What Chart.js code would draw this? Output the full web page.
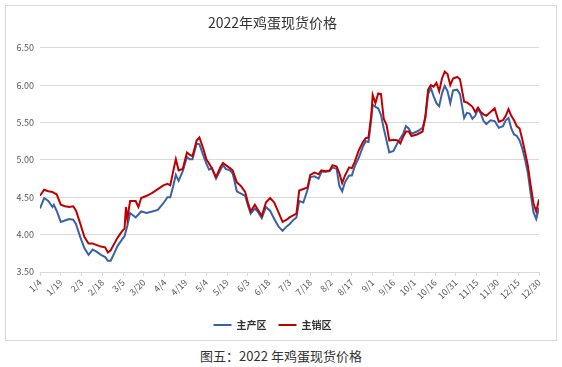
<!DOCTYPE html>
<html>
<head>
<meta charset="utf-8">
<script src="https://cdn.jsdelivr.net/npm/chart.js@4/dist/chart.umd.min.js"></script>
<style>
  html, body { margin: 0; padding: 0; background: #fff; }
  body { width: 562px; height: 367px; position: relative; overflow: hidden; font-family: "Noto Sans CJK SC", "Noto Sans", sans-serif; }
  #box { position: absolute; left: 5px; top: 5px; width: 550px; height: 334px; border: 1px solid #d9d9d9; }
  #caption { position: absolute; left: 0; top: 347px; width: 562px; text-align: center; font-size: 13px; line-height: 18px; color: #333; }
</style>
</head>
<body>
<div id="box"><canvas id="chart" width="550" height="334"></canvas></div>
<div id="caption">图五：2022 年鸡蛋现货价格</div>
<script>
// sample dates (2022)
const dates = [
  '1/4','1/7','1/10','1/13','1/14','1/16','1/19','1/22','1/25','1/28','1/30',
  '2/2','2/5','2/8','2/11','2/14','2/17','2/20','2/22','2/24','2/26',
  '3/1','3/4','3/6','3/7','3/8','3/10','3/14','3/16','3/18','3/22','3/26','3/30',
  '4/3','4/6','4/8','4/10','4/12','4/14','4/17','4/20','4/22','4/24','4/27','4/29',
  '5/2','5/4','5/6','5/8','5/11','5/14','5/16','5/18','5/21','5/23','5/26','5/29',
  '6/1','6/3','6/5','6/8','6/10','6/13','6/16','6/19','6/22','6/25','6/28',
  '7/1','7/3','7/6','7/8','7/10','7/13','7/16','7/18','7/21','7/24','7/26','7/29',
  '8/1','8/3','8/6','8/8','8/10','8/12','8/15','8/17','8/19','8/22','8/25','8/27','8/29','8/31',
  '9/1','9/3','9/5','9/7','9/9','9/11','9/13','9/16','9/19','9/21','9/23','9/25','9/27','9/29',
  '10/3','10/7','10/9','10/11','10/13','10/15','10/17','10/19','10/21','10/23','10/25','10/27','10/29',
  '11/1','11/3','11/6','11/8','11/10','11/12','11/14','11/16','11/18','11/20','11/22','11/25','11/28',
  '12/1','12/4','12/6','12/8','12/10','12/12','12/14','12/16','12/18','12/20','12/22','12/24','12/26','12/28','12/30'
];

// 主产区
const zhuChan = [
  4.35,4.49,4.45,4.37,4.40,4.32,4.17,4.19,4.21,4.20,4.14,
  3.97,3.82,3.73,3.80,3.77,3.73,3.70,3.65,3.65,3.73,
  3.85,3.93,3.98,4.05,4.12,4.29,4.23,4.27,4.31,4.29,4.31,4.33,
  4.42,4.50,4.50,4.64,4.80,4.72,4.85,5.04,5.01,5.01,5.22,5.21,
  5.05,4.95,4.87,4.89,4.75,4.86,4.93,4.88,4.86,4.82,4.58,4.55,
  4.52,4.39,4.28,4.35,4.31,4.22,4.37,4.32,4.21,4.11,4.05,
  4.11,4.14,4.20,4.23,4.45,4.43,4.60,4.77,4.78,4.75,4.84,4.84,
  4.85,4.90,4.88,4.65,4.58,4.70,4.79,4.79,4.91,5.03,5.18,5.25,5.24,5.55,
  5.74,5.71,5.69,5.60,5.42,5.26,5.10,5.12,5.23,5.29,5.35,5.45,5.42,5.35,
  5.38,5.43,5.56,5.88,5.96,5.85,5.76,5.72,5.89,5.99,5.92,5.76,5.93,
  5.94,5.88,5.56,5.63,5.62,5.55,5.59,5.68,5.62,5.52,5.48,5.53,5.52,
  5.43,5.45,5.53,5.56,5.42,5.34,5.32,5.26,5.15,5.00,4.82,4.55,4.30,4.21,4.36
];

// 主销区
const zhuXiao = [
  4.52,4.60,4.58,4.57,4.56,4.54,4.40,4.38,4.37,4.38,4.32,
  4.15,3.97,3.88,3.88,3.86,3.84,3.83,3.76,3.79,3.86,
  3.96,4.04,4.08,4.37,4.21,4.45,4.45,4.37,4.49,4.52,4.56,4.61,
  4.66,4.68,4.66,4.84,5.01,4.86,4.88,5.10,5.07,5.05,5.26,5.30,
  5.14,5.01,4.95,4.89,4.77,4.90,4.96,4.93,4.89,4.86,4.70,4.65,
  4.57,4.43,4.31,4.40,4.34,4.25,4.43,4.49,4.43,4.30,4.17,
  4.20,4.23,4.26,4.28,4.59,4.61,4.63,4.80,4.83,4.81,4.86,4.85,
  4.86,4.93,4.91,4.82,4.69,4.79,4.90,4.89,4.97,5.13,5.24,5.29,5.30,5.60,
  5.87,5.76,5.89,5.88,5.55,5.47,5.26,5.27,5.26,5.22,5.31,5.38,5.38,5.32,
  5.34,5.38,5.58,5.94,6.00,5.98,6.03,5.92,6.09,6.18,6.15,6.00,6.09,
  6.11,6.08,5.78,5.77,5.74,5.71,5.64,5.70,5.64,5.61,5.59,5.64,5.69,
  5.51,5.53,5.59,5.68,5.59,5.53,5.45,5.42,5.27,5.10,4.92,4.66,4.42,4.31,4.47
];

// x axis labels, one every 15 days
const tickLabels = ['1/4','1/19','2/3','2/18','3/5','3/20','4/4','4/19','5/4','5/19','6/3','6/18',
  '7/3','7/18','8/2','8/17','9/1','9/16','10/1','10/16','10/31','11/15','11/30','12/15','12/30'];

const yMin = 3.5, yMax = 6.5, yStep = 0.5;

function dayOf(s) {
  const [m, d] = s.split('/').map(Number);
  return Math.round((new Date(2022, m - 1, d) - new Date(2022, 0, 4)) / 86400000);
}

function points(values) {
  return dates.map((s, i) => ({ x: dayOf(s), y: values[i] }));
}

const fontFamily = '"Noto Sans CJK SC", "Noto Sans", sans-serif';
Chart.defaults.font.family = fontFamily;
Chart.defaults.color = '#595959';

new Chart(document.getElementById('chart'), {
  type: 'line',
  data: {
    datasets: [
      {
        label: '主产区',
        data: points(zhuChan),
        borderColor: '#3A62A7',
        backgroundColor: '#3A62A7',
        borderWidth: 2,
        pointRadius: 0,
        tension: 0,
        order: 1
      },
      {
        label: '主销区',
        data: points(zhuXiao),
        borderColor: '#C00000',
        backgroundColor: '#C00000',
        borderWidth: 2,
        pointRadius: 0,
        tension: 0,
        order: 0
      }
    ]
  },
  options: {
    responsive: false,
    animation: false,
    layout: { padding: { left: 0, right: 17, top: 0, bottom: 0 } },
    plugins: {
      title: {
        display: true,
        text: '2022年鸡蛋现货价格',
        color: '#333',
        font: { size: 14, weight: 'normal' },
        padding: { top: 8, bottom: 17 }
      },
      legend: {
        position: 'bottom',
        labels: {
          usePointStyle: true,
          pointStyle: 'line',
          pointStyleWidth: 18,
          boxHeight: 10,
          padding: 12,
          color: '#333',
          font: { size: 10, weight: 'bold' },
          sort: (a, b) => a.datasetIndex - b.datasetIndex
        }
      },
      tooltip: { enabled: false }
    },
    scales: {
      x: {
        type: 'linear',
        min: 0,
        max: 360,
        afterBuildTicks: (scale) => {
          scale.ticks = tickLabels.map((t, i) => ({ value: i * 15 }));
        },
        afterFit: (scale) => { scale.height = 36; },
        ticks: {
          autoSkip: false,
          maxRotation: 45,
          minRotation: 45,
          padding: 1,
          font: { size: 9 },
          callback: (v) => tickLabels[Math.round(v / 15)]
        },
        grid: { drawOnChartArea: false, drawTicks: true, tickLength: 4, color: '#d9d9d9' },
        border: { display: true, color: '#d9d9d9' }
      },
      y: {
        min: yMin,
        max: yMax,
        afterFit: (scale) => { scale.width = 34; },
        ticks: {
          stepSize: yStep,
          padding: 6,
          font: { size: 9 },
          callback: (v) => v.toFixed(2)
        },
        grid: { color: '#d9d9d9', drawTicks: false },
        border: { display: false }
      }
    }
  }
});
</script>
</body>
</html>
